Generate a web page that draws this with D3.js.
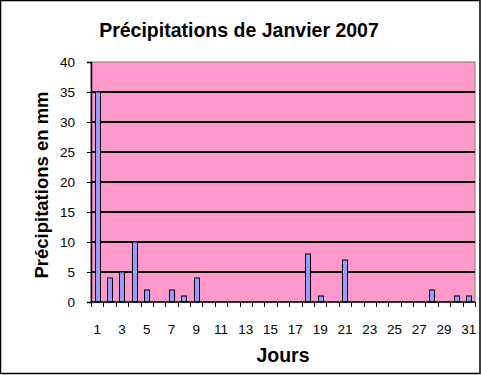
<!DOCTYPE html>
<html>
<head>
<meta charset="utf-8">
<script src="https://cdn.jsdelivr.net/npm/d3@7"></script>
<style>
  body { margin: 0; background: #fff; }
  svg { display: block; font-family: "Liberation Sans", Arial, sans-serif; }
</style>
</head>
<body>
<div id="vis"></div>
<script>
// Days of January 2007 and rainfall (mm)
var days = d3.range(1, 32);
var rain = [35, 4, 5, 10, 2, 0, 2, 1, 4, 0, 0, 0, 0, 0, 0, 0, 0, 8, 1, 0, 7, 0, 0, 0, 0, 0, 0, 2, 0, 1, 1];
var yTicks = [0, 5, 10, 15, 20, 25, 30, 35, 40];

var width = 481, height = 375;
var margin = { left: 91, right: 6, top: 62, bottom: 73 };
var drawWidth = width - margin.left - margin.right;
var drawHeight = height - margin.top - margin.bottom;

var svg = d3.select('#vis').append('svg')
    .attr('width', width)
    .attr('height', height);

// outer frame
svg.append('rect')
    .attr('x', 0.5).attr('y', 0.5)
    .attr('width', width - 1.5).attr('height', height - 2)
    .attr('fill', '#fff').attr('stroke', '#000').attr('stroke-width', 1.5);

var g = svg.append('g')
    .attr('transform', 'translate(' + margin.left + ',' + margin.top + ')');

var xScale = d3.scaleBand().domain(days).range([0, drawWidth]);
var yScale = d3.scaleLinear().domain([0, 40]).range([drawHeight, 0]);

// plot background
g.append('rect')
    .attr('width', drawWidth).attr('height', drawHeight)
    .attr('fill', '#FF99CC').attr('stroke', '#808080').attr('stroke-width', 1);

// gridlines
g.selectAll('.grid').data(yTicks.filter(function (d) { return d > 0 && d < 40; }))
    .enter().append('line')
    .attr('x1', 0).attr('x2', drawWidth)
    .attr('y1', function (d) { return yScale(d); })
    .attr('y2', function (d) { return yScale(d); })
    .attr('stroke', '#000').attr('stroke-width', 2);

// bars (gap width 150%)
var barW = xScale.bandwidth() / 2.5;
var barData = days.map(function (d, i) { return { day: d, v: rain[i] }; })
    .filter(function (d) { return d.v > 0; });
g.selectAll('.bar').data(barData)
    .enter().append('rect')
    .attr('class', 'bar')
    .attr('x', function (d) { return Math.round(xScale(d.day) + (xScale.bandwidth() - barW) / 2) + 0.5; })
    .attr('y', function (d) { return yScale(d.v); })
    .attr('width', Math.round(barW))
    .attr('height', function (d) { return drawHeight - yScale(d.v); })
    .attr('fill', '#9999FF').attr('stroke', '#000').attr('stroke-width', 1);

// y axis
var yAxis = d3.axisLeft(yScale).tickValues(yTicks).tickSize(4).tickPadding(12);
var yAx = g.append('g').call(yAxis);
yAx.select('.domain').attr('stroke-width', 1.5);
yAx.selectAll('text').attr('font-size', 13.5).attr('font-family', '"Liberation Sans", Arial, sans-serif').attr('fill', '#000');

// x axis: ticks between categories, labels on odd days
var xAx = g.append('g').attr('transform', 'translate(0,' + drawHeight + ')');
xAx.append('line').attr('x1', 0).attr('x2', drawWidth).attr('stroke', '#000').attr('stroke-width', 1.5);
xAx.selectAll('.tk').data(days.concat([32]))
    .enter().append('line')
    .attr('x1', function (d, i) { return Math.round(i * xScale.step()) + 0.5; })
    .attr('x2', function (d, i) { return Math.round(i * xScale.step()) + 0.5; })
    .attr('y1', 0).attr('y2', 5)
    .attr('stroke', '#000');
xAx.selectAll('.lbl').data(days.filter(function (d) { return d % 2 === 1; }))
    .enter().append('text')
    .attr('x', function (d) { return xScale(d) + xScale.bandwidth() / 2; })
    .attr('y', 32)
    .attr('text-anchor', 'middle')
    .attr('font-size', 13.5)
    .text(function (d) { return d; });

// titles
svg.append('text')
    .attr('x', 239).attr('y', 37)
    .attr('text-anchor', 'middle')
    .attr('font-size', 19.5).attr('font-weight', 'bold')
    .text('Précipitations de Janvier 2007');

svg.append('text')
    .attr('x', 283).attr('y', 362)
    .attr('text-anchor', 'middle')
    .attr('font-size', 19.5).attr('font-weight', 'bold')
    .text('Jours');

svg.append('text')
    .attr('transform', 'translate(48,' + (margin.top + drawHeight / 2 + 3) + ') rotate(-90)')
    .attr('text-anchor', 'middle')
    .attr('font-size', 18.5).attr('font-weight', 'bold')
    .text('Précipitations en mm');
</script>
</body>
</html>
